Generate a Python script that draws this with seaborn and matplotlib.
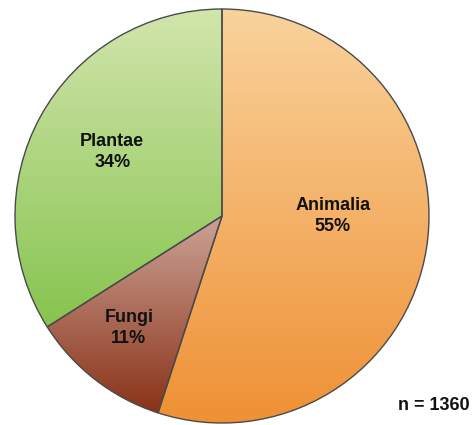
import numpy as np
import matplotlib
matplotlib.use("Agg")
import matplotlib.pyplot as plt
from matplotlib.colors import LinearSegmentedColormap
import seaborn as sns

# Data
kingdoms = ["Animalia", "Fungi", "Plantae"]
shares = [55, 11, 34]
n_total = 1360

# gradient colours (top -> bottom) per wedge
top_colors = ["#F9D39C", "#CBA396", "#D2E5AC"]
bottom_colors = ["#EF9034", "#8A3218", "#86C44E"]

# label centres (axes data units, pie radius = 1)
label_pos = [(0.535, 0.0), (-0.45, -0.54), (-0.53, 0.31)]

sns.set_theme(style="white")
plt.rcParams["font.family"] = ["Liberation Sans", "DejaVu Sans"]

fig = plt.figure(figsize=(4.75, 4.25), dpi=100)
ax = fig.add_axes([15 / 475, 2 / 425, 414 / 475, 414 / 425])

wedges, _ = ax.pie(shares, startangle=90, counterclock=False, radius=1,
                   wedgeprops=dict(facecolor="none", edgecolor="#4a4a4a", linewidth=1.0))

# vertical gradient fill for each wedge, clipped to the wedge shape
for w, c0, c1 in zip(wedges, top_colors, bottom_colors):
    verts = w.get_path().vertices
    x0, x1 = verts[:, 0].min(), verts[:, 0].max()
    y0, y1 = verts[:, 1].min(), verts[:, 1].max()
    cmap = LinearSegmentedColormap.from_list("g", [c0, c1])
    grad = np.linspace(0, 1, 256).reshape(-1, 1)
    im = ax.imshow(grad, cmap=cmap, extent=(x0, x1, y0, y1), origin="upper",
                   aspect="auto", zorder=0.5, interpolation="bilinear")
    im.set_clip_path(w)

for name, pct, (x, y) in zip(kingdoms, shares, label_pos):
    ax.text(x, y, f"{name}\n{pct}%", ha="center", va="center", fontsize=13,
            fontweight="bold", color="#111111", linespacing=1.35)

ax.set_xlim(-1, 1)
ax.set_ylim(-1, 1)
ax.axis("off")
for w in wedges:
    w.set_clip_on(False)

fig.text(434 / 475, 1 - 405 / 425, f"n = {n_total}", ha="center", va="center",
         fontsize=13, fontweight="bold", color="#111111")

fig.savefig("out.png", dpi=100)
